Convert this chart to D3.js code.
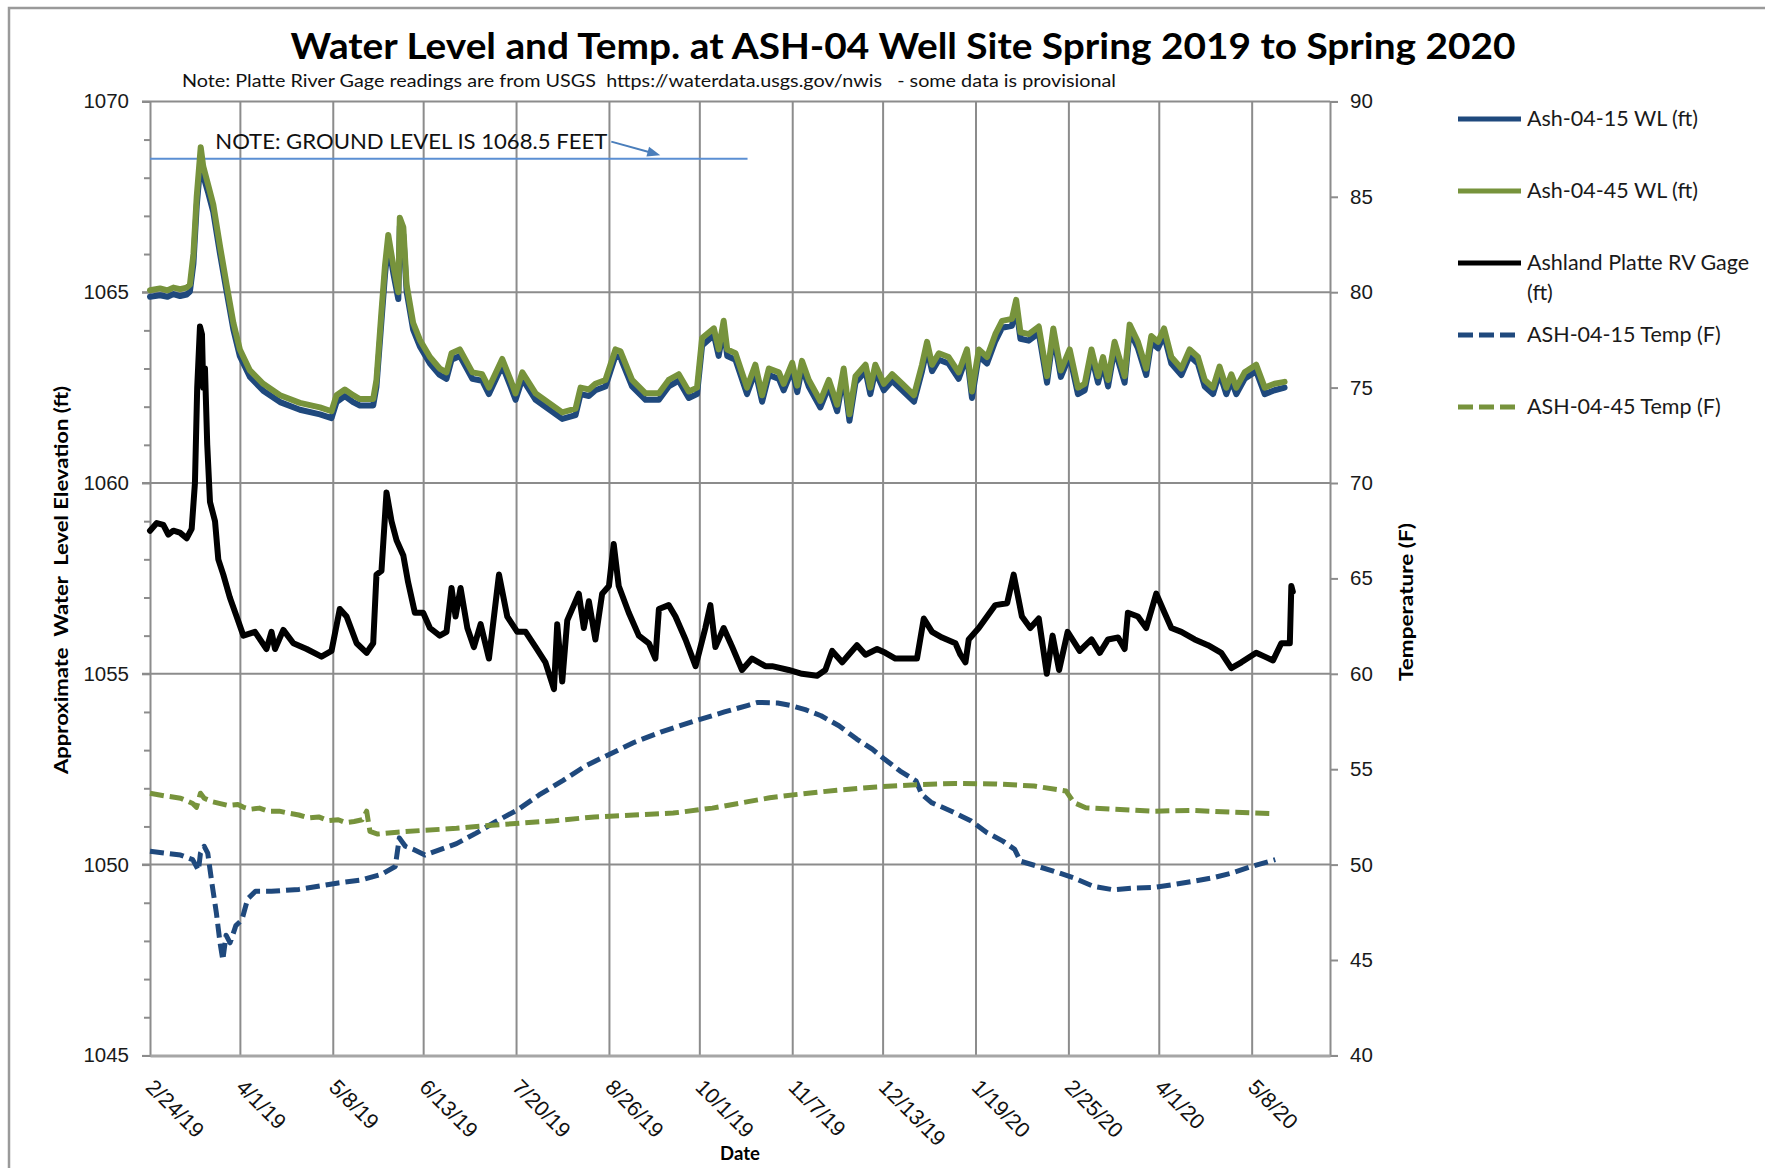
<!DOCTYPE html>
<html>
    <head>
        <title>Water Level and Temp. at ASH-04 Well Site</title>
        <meta charset="UTF-8" />
        <script src="https://cdn.jsdelivr.net/npm/d3@7/dist/d3.min.js"></script>
        <style>
            body { margin: 0; background: #fff; }
            svg { display: block; font-family: Lato, "Open Sans", sans-serif; }
        </style>
    </head>
    <body>
        <svg width="1765" height="1168"></svg>
        <script>
            // day offsets are counted from the first reading, 2/24/19
            var startDay = "2/24/19"
            var endDay = "6/8/20"
            var tickLabels = ["2/24/19", "4/1/19", "5/8/19", "6/13/19", "7/20/19", "8/26/19", "10/1/19",
                              "11/7/19", "12/13/19", "1/19/20", "2/25/20", "4/1/20", "5/8/20"]

            var groundLevel = 1068.5
            var groundDays = [0, 238]

            var wlDays = [0,4,7,9.3,12,14.6,15.9,17.3,18.6,20.2,
                21.2,23.2,25.2,27.9,30.5,33.2,35.8,39.8,45.1,51.8,
                59.7,67.7,72.3,74.3,77.6,80.9,83.6,88.9,90.2,92.2,
                93.6,94.9,96.9,98.9,99.5,100.9,102.2,104.8,107.5,111.5,
                115.4,118.1,120.1,123.4,128.4,132.3,135,140.3,143.6,145.6,
                148.3,153.6,158.9,164.2,169.5,171.5,174.8,177.4,181.4,185.4,
                187.4,192,197.4,202.7,206.6,210.6,214.6,217.9,219.9,224.6,
                226.5,228.5,229.9,233.2,237.8,241.1,243.8,246.5,250.5,252.4,
                255.8,257.8,259.7,262.4,267,270.4,273.7,276.3,278.6,281,
                285,286.9,288.9,292.3,295.6,299.6,304.3,307.5,309.5,311.5,
                314.2,318.1,322.1,325.4,327.4,330.1,333.4,336.7,339.4,343.3,
                345,346.7,350,354,357.3,359.8,362.8,366.3,369.6,372.3,
                375,377.6,379.6,381.6,384.2,388.2,390.2,393.5,396.8,398.8,
                401.5,403.9,406.8,410.8,414.1,417.4,420.1,423.4,426,428.7,
                430.7,432.7,436,440.6,444,447.9,451.9]

            var wl15 = [1064.88,1064.92,1064.88,1064.95,1064.9,1064.94,1065.02,1065.75,1067.25,1068.45,
                1068.05,1067.6,1067.1,1066.0,1065.02,1064.02,1063.32,1062.78,1062.42,1062.12,
                1061.92,1061.8,1061.7,1062.12,1062.28,1062.12,1062.03,1062.03,1062.52,1064.25,
                1065.45,1066.3,1065.5,1064.82,1066.72,1066.5,1065.02,1064.02,1063.58,1063.13,
                1062.83,1062.73,1063.23,1063.33,1062.73,1062.68,1062.33,1063.08,1062.53,1062.18,
                1062.73,1062.18,1061.93,1061.68,1061.78,1062.33,1062.28,1062.43,1062.53,1063.33,
                1063.28,1062.53,1062.18,1062.18,1062.53,1062.68,1062.23,1062.33,1063.6,1063.88,
                1063.33,1064.05,1063.33,1063.23,1062.33,1062.93,1062.13,1062.83,1062.73,1062.43,
                1062.98,1062.38,1063.03,1062.53,1061.98,1062.53,1061.88,1062.83,1061.63,1062.63,
                1062.93,1062.33,1062.93,1062.43,1062.68,1062.43,1062.13,1062.93,1063.52,1062.93,
                1063.23,1063.13,1062.73,1063.33,1062.23,1063.33,1063.13,1063.72,1064.07,1064.12,
                1064.6,1063.78,1063.73,1063.93,1062.63,1063.88,1062.78,1063.33,1062.33,1062.43,
                1063.33,1062.63,1063.13,1062.53,1063.53,1062.63,1063.98,1063.53,1062.83,1063.68,
                1063.53,1063.88,1063.13,1062.83,1063.33,1063.13,1062.53,1062.33,1062.88,1062.33,
                1062.68,1062.33,1062.73,1062.93,1062.33,1062.43,1062.5]

            var wl45 = [1065.05,1065.1,1065.05,1065.12,1065.08,1065.12,1065.2,1066.0,1067.5,1068.8,
                1068.3,1067.8,1067.3,1066.2,1065.2,1064.2,1063.5,1062.95,1062.6,1062.3,
                1062.1,1061.98,1061.88,1062.3,1062.45,1062.3,1062.2,1062.2,1062.7,1064.5,
                1065.7,1066.5,1065.7,1065.0,1066.95,1066.7,1065.2,1064.2,1063.75,1063.3,
                1063.0,1062.9,1063.4,1063.5,1062.9,1062.85,1062.5,1063.25,1062.7,1062.35,
                1062.9,1062.35,1062.1,1061.85,1061.95,1062.5,1062.45,1062.6,1062.7,1063.5,
                1063.45,1062.7,1062.35,1062.35,1062.7,1062.85,1062.4,1062.5,1063.8,1064.05,
                1063.5,1064.25,1063.5,1063.4,1062.5,1063.1,1062.3,1063.0,1062.9,1062.6,
                1063.15,1062.55,1063.2,1062.7,1062.15,1062.7,1062.05,1063.0,1061.8,1062.8,
                1063.1,1062.5,1063.1,1062.6,1062.85,1062.6,1062.3,1063.1,1063.7,1063.1,
                1063.4,1063.3,1062.9,1063.5,1062.4,1063.5,1063.3,1063.9,1064.25,1064.3,
                1064.8,1063.95,1063.9,1064.1,1062.8,1064.05,1062.95,1063.5,1062.5,1062.6,
                1063.5,1062.8,1063.3,1062.7,1063.7,1062.8,1064.15,1063.7,1063.0,1063.85,
                1063.7,1064.05,1063.3,1063.0,1063.5,1063.3,1062.7,1062.5,1063.05,1062.5,
                1062.85,1062.5,1062.9,1063.1,1062.5,1062.6,1062.65]

            var gageDays = [0,2.7,5.3,7.3,9.3,11.9,14.6,16.6,17.9,18.8,
                19.9,20.7,21.2,21.9,22.8,23.9,25.9,27.2,29.2,31.8,
                34.5,37.2,41.8,46.4,48.4,49.8,53.1,57.1,62.4,68.3,
                72.3,75.6,78.3,82.3,86.3,88.9,90.2,92.2,94.2,96.2,
                98.2,100.9,102.8,105.5,108.8,111.5,115.4,118.1,120.1,121.7,
                123.7,126.4,129,131.7,135,139,142.3,146.3,149.6,153.6,
                157.5,160.9,162.2,164.2,166.2,170.8,172.8,174.8,177.4,180.1,
                182.8,184.7,186.7,190.7,194.7,198.7,201.3,202.7,206.6,209.3,
                213.3,217.3,221.2,223.2,225.2,228.5,231.9,235.8,239.8,245.1,
                247.8,254.4,259.7,265.7,269,271.7,275.7,278.3,281.6,285,
                289.6,292.9,296.9,300.9,305.5,308.2,311.5,315.5,320.8,322.8,
                324.8,326.1,330.1,336.7,341.4,344,347.3,350.6,354,357.2,
                359.5,362.1,365.5,370.3,375,378.3,381.6,385.6,388.2,389.5,
                393.5,396.8,400.8,404.1,406.8,410.8,416.1,421.4,426.7,430.7,
                434.7,440.6,444,447.3,450.6,454,454.6,455.2]

            var gage = [1058.75,1058.95,1058.9,1058.65,1058.75,1058.7,1058.55,1058.8,1060.0,1062.5,
                1064.1,1063.9,1062.5,1063.0,1061.0,1059.5,1059.0,1058.0,1057.6,1057.0,
                1056.5,1056.0,1056.1,1055.65,1056.1,1055.65,1056.15,1055.8,1055.65,1055.45,
                1055.6,1056.7,1056.5,1055.8,1055.55,1055.8,1057.6,1057.7,1059.75,1059.0,
                1058.5,1058.1,1057.4,1056.6,1056.6,1056.2,1056.0,1056.1,1057.25,1056.5,
                1057.25,1056.2,1055.7,1056.3,1055.4,1057.6,1056.5,1056.1,1056.1,1055.7,
                1055.3,1054.6,1056.3,1054.8,1056.4,1057.1,1056.2,1056.9,1055.9,1057.1,
                1057.3,1058.4,1057.3,1056.6,1056.0,1055.8,1055.4,1056.7,1056.8,1056.5,
                1055.9,1055.2,1056.2,1056.8,1055.7,1056.2,1055.7,1055.1,1055.4,1055.2,
                1055.2,1055.1,1055.0,1054.95,1055.1,1055.6,1055.3,1055.5,1055.75,1055.5,
                1055.65,1055.55,1055.4,1055.4,1055.4,1056.45,1056.1,1055.95,1055.8,1055.5,
                1055.3,1055.9,1056.2,1056.8,1056.85,1057.6,1056.5,1056.2,1056.45,1055.0,
                1056.0,1055.1,1056.1,1055.6,1055.9,1055.55,1055.9,1055.95,1055.65,1056.6,
                1056.5,1056.2,1057.1,1056.6,1056.2,1056.1,1055.9,1055.75,1055.55,1055.15,
                1055.3,1055.55,1055.45,1055.35,1055.8,1055.8,1057.3,1057.15]

            var temp15Days = [0,6,12.2,17,19.3,20.1,21.6,23,24.8,26.4,
                27.9,29,30.3,31.9,34.2,36.6,38.9,42,48.3,59.3,
                68.7,75,84.4,92.3,97.7,99.3,101.7,104.8,109.5,115.8,
                122.1,129.9,137.8,146.4,155,164.4,173.8,183.3,192.7,203.7,
                216.2,228.8,238.2,242.1,250,255.5,261,267.3,274.4,281.5,
                287.7,292.5,298.8,305.1,307.4,311.3,319.2,327.1,333.4,339.7,
                344.4,346.7,353.8,360.1,368,375.8,383.7,391.6,399.4,407.3,
                415.2,423,430.9,438.8,448.2]

            var temp15 = [50.7,50.6,50.5,50.26,49.7,50.6,50.96,50.6,48.9,47.5,
                45.9,45.0,46.3,45.9,46.8,47.1,48.2,48.6,48.6,48.7,
                48.9,49.04,49.2,49.5,49.9,51.4,50.96,50.8,50.5,50.8,
                51.1,51.65,52.26,52.87,53.65,54.4,55.2,55.8,56.4,56.96,
                57.5,58.0,58.35,58.5,58.47,58.33,58.12,57.8,57.28,56.58,
                56.05,55.53,54.9,54.39,53.68,53.25,52.8,52.28,51.67,51.23,
                50.8,50.18,49.9,49.65,49.3,48.86,48.68,48.77,48.8,48.95,
                49.12,49.3,49.56,49.9,50.26]

            var temp45Days = [0,6,12.2,17,18.5,20.1,21.6,24.8,31.1,35,
                37.3,40,43.6,47,51.5,55,59.3,63,67.2,71,
                75,78,81.3,84.5,86.3,87.6,90.7,98.5,109.5,122.1,
                134.6,147.2,161.3,177,192.7,208.4,224,238.2,246.8,257.9,
                273.6,289.3,305.1,320.8,336.5,352.2,364.8,368,372.7,383.7,
                399.4,415.2,430.9,448.2]

            var temp45 = [53.74,53.6,53.48,53.2,53.0,53.74,53.48,53.3,53.1,53.15,
                53.0,52.9,52.96,52.8,52.8,52.7,52.6,52.45,52.5,52.3,
                52.35,52.2,52.26,52.35,52.8,51.74,51.6,51.7,51.8,51.9,
                52.05,52.17,52.3,52.5,52.6,52.7,52.96,53.3,53.5,53.68,
                53.9,54.07,54.19,54.25,54.23,54.12,53.86,53.25,52.98,52.9,
                52.8,52.84,52.75,52.67]

            var legendLabels = [["Ash-04-15 WL (ft)"], ["Ash-04-45 WL (ft)"], ["Ashland Platte RV Gage", "(ft)"],
                                ["ASH-04-15 Temp (F)"], ["ASH-04-45 Temp (F)"]]

            var blue = "#1f497d", green = "#77933c", gridColor = "#8c8c8c"
            var parseDay = d3.timeParse("%m/%d/%y")
            var start = parseDay(startDay)

            function dayToDate(day) {
                return new Date(start.getTime() + day * 864e5)
            }

            function fitWidth(sel, w) {
                sel.attr("textLength", w).attr("lengthAdjust", "spacingAndGlyphs")
                return sel
            }

            var plotLeft = 150, plotRight = 1330, plotTop = 101.4, plotBottom = 1055.4
            var svg = d3.select("svg")

            var xScale = d3.scaleTime().domain([start, parseDay(endDay)]).range([plotLeft, plotRight])
            var yScale = d3.scaleLinear().domain([1045, 1070]).range([plotBottom, plotTop])
            var tScale = d3.scaleLinear().domain([40, 90]).range([plotBottom, plotTop])

            // outer frame of the chart area
            svg.append("path")
                .attr("d", "M9,1170 L9,8 L1770,8")
                .attr("fill", "none")
                .attr("stroke", "#9a9a9a")
                .attr("stroke-width", 2.5)

            // horizontal grid, running a little past the left axis as major ticks
            svg.append("g").selectAll("line")
                .data(d3.range(1050, 1071, 5))
                .enter().append("line")
                .attr("x1", plotLeft - 8).attr("x2", plotRight)
                .attr("y1", d => yScale(d)).attr("y2", d => yScale(d))
                .attr("stroke", gridColor).attr("stroke-width", 2)

            var tickDates = tickLabels.map(parseDay)
            svg.append("g").selectAll("line")
                .data(tickDates.slice(1))
                .enter().append("line")
                .attr("x1", d => xScale(d)).attr("x2", d => xScale(d))
                .attr("y1", plotTop).attr("y2", plotBottom)
                .attr("stroke", gridColor).attr("stroke-width", 2)

            // left axis: minor ticks every foot, labels every five
            var minor = d3.range(1045, 1071, 1).filter(d => d % 5 != 0)
            svg.append("g")
                .attr("transform", "translate(" + plotLeft + ",0)")
                .call(d3.axisLeft(yScale).tickValues(minor).tickSize(6).tickFormat(""))
                .call(g => g.select(".domain").remove())
                .selectAll("line").attr("stroke", gridColor).attr("stroke-width", 2)

            var yAxisG = svg.append("g")
                .attr("transform", "translate(" + plotLeft + ",0)")
                .call(d3.axisLeft(yScale).tickValues(d3.range(1045, 1071, 5)).tickSize(8).tickPadding(13).tickFormat(d3.format("d")))
            yAxisG.select(".domain").attr("stroke", gridColor).attr("stroke-width", 2)
            yAxisG.selectAll("line").attr("stroke", gridColor).attr("stroke-width", 2)
            yAxisG.selectAll("text").style("font-size", "20.5px").attr("fill", "#1a1a1a")

            var tAxisG = svg.append("g")
                .attr("transform", "translate(" + plotRight + ",0)")
                .call(d3.axisRight(tScale).tickValues(d3.range(40, 91, 5)).tickSize(8).tickPadding(12))
            tAxisG.select(".domain").attr("stroke", gridColor).attr("stroke-width", 2)
            tAxisG.selectAll("line").attr("stroke", gridColor).attr("stroke-width", 2)
            tAxisG.selectAll("text").style("font-size", "20.5px").attr("fill", "#1a1a1a")

            var xAxisG = svg.append("g")
                .attr("transform", "translate(0," + plotBottom + ")")
                .call(d3.axisBottom(xScale).tickValues(tickDates).tickSize(0).tickFormat((d, i) => tickLabels[i]))
            xAxisG.select(".domain").attr("stroke", "#a6a6a6").attr("stroke-width", 3)
            xAxisG.selectAll("text")
                .attr("y", 0).attr("dy", 0)
                .attr("transform", "translate(-6,33) rotate(45)")
                .style("text-anchor", "start")
                .style("font-size", "21.5px")
                .attr("fill", "#111")

            // ground level reference line and its note
            svg.append("line")
                .attr("x1", xScale(dayToDate(groundDays[0]))).attr("x2", xScale(dayToDate(groundDays[1])))
                .attr("y1", yScale(groundLevel)).attr("y2", yScale(groundLevel))
                .attr("stroke", "#5b8fd3").attr("stroke-width", 2)

            var noteX = xScale(dayToDate(26))
            var note = svg.append("text")
                .attr("x", noteX)
                .attr("y", yScale(groundLevel) - 10)
                .style("font-size", "21px")
                .attr("fill", "#111")
                .text("NOTE: GROUND LEVEL IS 1068.5 FEET")
            fitWidth(note, 392)

            var ax0 = noteX + 396, ay0 = yScale(groundLevel) - 17
            var ax1 = ax0 + 49, ay1 = yScale(groundLevel) - 3.5
            var ang = Math.atan2(ay1 - ay0, ax1 - ax0)
            svg.append("line")
                .attr("x1", ax0).attr("y1", ay0)
                .attr("x2", ax1 - 10 * Math.cos(ang)).attr("y2", ay1 - 10 * Math.sin(ang))
                .attr("stroke", "#4a7ebb").attr("stroke-width", 2)
            svg.append("path")
                .attr("d", "M" + ax1 + "," + ay1 +
                    " L" + (ax1 - 13 * Math.cos(ang) + 5 * Math.sin(ang)) + "," + (ay1 - 13 * Math.sin(ang) - 5 * Math.cos(ang)) +
                    " L" + (ax1 - 13 * Math.cos(ang) - 5 * Math.sin(ang)) + "," + (ay1 - 13 * Math.sin(ang) + 5 * Math.cos(ang)) + " Z")
                .attr("fill", "#4a7ebb")

            // series
            function zip(days, vals) {
                return days.map((d, i) => [dayToDate(d), vals[i]])
            }

            var wlLine = d3.line().x(d => xScale(d[0])).y(d => yScale(d[1]))
            var tLine = d3.line().x(d => xScale(d[0])).y(d => tScale(d[1]))

            var series = [
                {data: zip(wlDays, wl15), line: wlLine, color: blue, width: 6, dash: null},
                {data: zip(wlDays, wl45), line: wlLine, color: green, width: 6, dash: null},
                {data: zip(gageDays, gage), line: wlLine, color: "#000", width: 6, dash: null},
                {data: zip(temp15Days, temp15), line: tLine, color: blue, width: 5, dash: "14,6"},
                {data: zip(temp45Days, temp45), line: tLine, color: green, width: 5, dash: "14,6"}
            ]

            series.forEach(s => {
                svg.append("path")
                    .attr("d", s.line(s.data))
                    .attr("fill", "none")
                    .attr("stroke", s.color)
                    .attr("stroke-width", s.width)
                    .attr("stroke-linejoin", "round")
                    .attr("stroke-linecap", s.dash ? "butt" : "round")
                    .attr("stroke-dasharray", s.dash)
            })

            // legend
            var legendY = [119, 191, 263, 335, 407]
            var legend = svg.append("g")
            series.forEach((s, i) => {
                legend.append("line")
                    .attr("x1", 1458).attr("x2", s.dash ? 1516 : 1521)
                    .attr("y1", legendY[i]).attr("y2", legendY[i])
                    .attr("stroke", s.color)
                    .attr("stroke-width", 5)
                    .attr("stroke-dasharray", s.dash ? "15,6" : null)
                legendLabels[i].forEach((t, j) => {
                    legend.append("text")
                        .attr("x", 1527)
                        .attr("y", legendY[i] + 7 + j * 30)
                        .style("font-size", "21.5px")
                        .attr("fill", "#1a1a1a")
                        .text(t)
                })
            })

            // titles
            fitWidth(svg.append("text")
                .attr("x", 903).attr("y", 59)
                .style("text-anchor", "middle")
                .style("font-size", "36px")
                .style("font-weight", "bold")
                .text("Water Level and Temp. at ASH-04 Well Site Spring 2019 to Spring 2020"), 1225)

            fitWidth(svg.append("text")
                .attr("x", 182).attr("y", 87)
                .style("font-size", "18px")
                .style("white-space", "pre")
                .attr("fill", "#111")
                .text("Note: Platte River Gage readings are from USGS  https://waterdata.usgs.gov/nwis   - some data is provisional"), 934)

            fitWidth(svg.append("text")
                .attr("transform", "translate(68,580) rotate(-90)")
                .style("text-anchor", "middle")
                .style("font-size", "18.5px")
                .style("font-weight", "bold")
                .style("white-space", "pre")
                .text("Approximate  Water  Level Elevation (ft)"), 388)

            fitWidth(svg.append("text")
                .attr("transform", "translate(1413,602) rotate(-90)")
                .style("text-anchor", "middle")
                .style("font-size", "18.5px")
                .style("font-weight", "bold")
                .text("Temperature (F)"), 158)

            svg.append("text")
                .attr("x", 740).attr("y", 1160)
                .style("text-anchor", "middle")
                .style("font-size", "18.5px")
                .style("font-weight", "bold")
                .text("Date")
        </script>
    </body>
</html>
